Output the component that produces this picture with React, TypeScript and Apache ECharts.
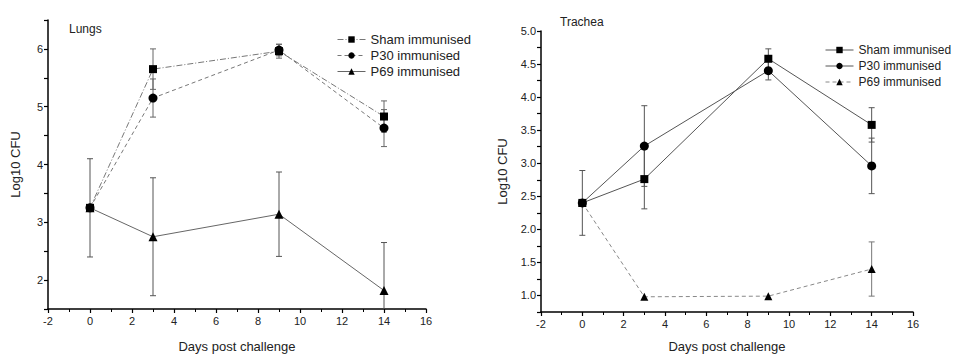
import React, { useEffect, useRef } from "react";
import * as echarts from "echarts";

const days = [0, 3, 9, 14];
const seriesNames = ["Sham immunised", "P30 immunised", "P69 immunised"];

const lungsSham = [3.25, 5.65, 5.96, 4.83];
const lungsShamErr = [0, 0.35, 0.12, 0.27];
const lungsP30 = [3.25, 5.15, 5.98, 4.63];
const lungsP30Err = [0, 0.33, 0.1, 0.32];
const lungsP69 = [3.25, 2.75, 3.14, 1.82];
const lungsP69Err = [0.85, 1.02, 0.73, 0.83];

const tracheaSham = [2.4, 2.76, 4.58, 3.58];
const tracheaShamErr = [0.49, 0.45, 0.15, 0.26];
const tracheaP30 = [2.4, 3.26, 4.4, 2.96];
const tracheaP30Err = [0, 0.61, 0.14, 0.42];
const tracheaP69 = [2.4, 0.98, 0.99, 1.4];
const tracheaP69Err = [0, 0, 0, 0.41];

const FONT = "Liberation Sans, Arial, sans-serif";

const pts = (vals: number[]) => days.map((d, i) => [d, vals[i]]);
const errPts = (vals: number[], errs: number[]) =>
  days
    .map((d, i) => [d, vals[i] - errs[i], vals[i] + errs[i]])
    .filter((_, i) => errs[i] > 0);

const errorSeries = (data: number[][], idx: number, color: string) => ({
  type: "custom",
  xAxisIndex: idx,
  yAxisIndex: idx,
  clip: true,
  silent: true,
  z: 1,
  data,
  renderItem: (params: any, api: any) => {
    const x = api.value(0);
    const lo = api.coord([x, api.value(1)]);
    const hi = api.coord([x, api.value(2)]);
    const cw = 3;
    const style = { stroke: color, lineWidth: 1 };
    return {
      type: "group",
      children: [
        { type: "line", shape: { x1: lo[0], y1: lo[1], x2: hi[0], y2: hi[1] }, style },
        { type: "line", shape: { x1: hi[0] - cw, y1: hi[1], x2: hi[0] + cw, y2: hi[1] }, style },
        { type: "line", shape: { x1: lo[0] - cw, y1: lo[1], x2: lo[0] + cw, y2: lo[1] }, style },
      ],
    };
  },
});

const lineSeries = (
  name: string,
  vals: number[],
  idx: number,
  symbol: string,
  size: number,
  color: string,
  type: any
) => ({
  type: "line",
  name,
  xAxisIndex: idx,
  yAxisIndex: idx,
  data: pts(vals),
  symbol,
  symbolSize: size,
  showAllSymbol: true,
  itemStyle: { color: "#000" },
  lineStyle: { color, width: 1, type },
  z: 3,
});

const xAxisBase = (idx: number, nameGap: number) => ({
  type: "value",
  gridIndex: idx,
  min: -2,
  max: 16,
  interval: 2,
  name: "Days post challenge",
  nameLocation: "middle",
  nameGap,
  nameTextStyle: { fontFamily: FONT, fontSize: 13, color: "#222" },
  axisLine: { show: true, onZero: false, lineStyle: { color: "#000", width: 1.5 } },
  axisTick: { show: true, length: 4, inside: false, lineStyle: { color: "#000", width: 1.2 } },
  minorTick: { show: true, splitNumber: 2, length: 3, lineStyle: { color: "#000" } },
  axisLabel: { fontFamily: FONT, fontSize: 11, color: "#222", margin: 6 },
  splitLine: { show: false },
  minorSplitLine: { show: false },
});

const yAxisBase = (
  idx: number,
  min: number,
  max: number,
  interval: number,
  fmt: (v: number) => string,
  nameGap: number
) => ({
  type: "value",
  gridIndex: idx,
  min,
  max,
  interval,
  name: "Log10 CFU",
  nameLocation: "middle",
  nameRotate: 90,
  nameGap,
  nameTextStyle: { fontFamily: FONT, fontSize: 13, color: "#222" },
  axisLine: { show: true, onZero: false, lineStyle: { color: "#000", width: 1.5 } },
  axisTick: { show: true, length: 4, lineStyle: { color: "#000", width: 1.2 } },
  axisLabel: { fontFamily: FONT, fontSize: 11, color: "#222", margin: 5, formatter: fmt, showMinLabel: true, showMaxLabel: true },
  splitLine: { show: false },
});

const legendBase = (left: number, top: number, fontSize: number, gap: number, styles: any[]) => ({
  orient: "vertical",
  left,
  top,
  itemWidth: 28,
  itemHeight: 8,
  itemGap: gap,
  textStyle: { fontFamily: FONT, fontSize, color: "#222" },
  data: seriesNames.map((n, i) => ({ name: n, lineStyle: styles[i], itemStyle: { color: "#000" } })),
  selectedMode: false,
});

export default function App() {
  const ref = useRef<HTMLDivElement>(null);
  useEffect(() => {
    document.body.style.margin = "0";
    const chart = echarts.init(ref.current!, null, { renderer: "svg" });
    const lColors = ["#777", "#777", "#666"];
    const lTypes: any[] = [[6, 2, 1, 2], [4, 3], "solid"];
    const rColors = ["#555", "#555", "#888"];
    const rTypes: any[] = ["solid", "solid", [4, 3]];
    chart.setOption({
      animation: false,
      backgroundColor: "#fff",
      title: [
        { text: "Lungs", left: 64, top: 18, textStyle: { fontFamily: FONT, fontSize: 12, fontWeight: "normal", color: "#222" } },
        { text: "Trachea", left: 555, top: 11, textStyle: { fontFamily: FONT, fontSize: 12, fontWeight: "normal", color: "#222" } },
      ],
      legend: [
        legendBase(332, 28, 13, 3, lColors.map((c, i) => ({ color: c, width: 1, type: lTypes[i] }))),
        legendBase(820, 39, 12, 4, rColors.map((c, i) => ({ color: c, width: 1, type: rTypes[i] }))),
      ],
      grid: [
        { left: 48, top: 20, width: 378, height: 296 },
        { left: 541, top: 31, width: 372, height: 282 },
      ],
      xAxis: [xAxisBase(0, 31), xAxisBase(1, 28)],
      yAxis: [
        yAxisBase(0, 1.5, 6.5, 0.5, (v: number) => (Math.abs(v - Math.round(v)) < 1e-6 ? String(Math.round(v)) : ""), 26),
        yAxisBase(1, 0.75, 5.0, 0.25, (v: number) => (Math.abs(v * 2 - Math.round(v * 2)) < 1e-6 ? v.toFixed(1) : ""), 32),
      ],
      series: [
        lineSeries(seriesNames[0], lungsSham, 0, "rect", 8, lColors[0], lTypes[0]),
        lineSeries(seriesNames[1], lungsP30, 0, "circle", 9, lColors[1], lTypes[1]),
        lineSeries(seriesNames[2], lungsP69, 0, "triangle", 9, lColors[2], lTypes[2]),
        errorSeries(errPts(lungsSham, lungsShamErr), 0, "#666"),
        errorSeries(errPts(lungsP30, lungsP30Err), 0, "#666"),
        errorSeries(errPts(lungsP69, lungsP69Err), 0, "#555"),
        lineSeries(seriesNames[0], tracheaSham, 1, "rect", 8, rColors[0], rTypes[0]),
        lineSeries(seriesNames[1], tracheaP30, 1, "circle", 9, rColors[1], rTypes[1]),
        lineSeries(seriesNames[2], tracheaP69, 1, "triangle", 8, rColors[2], rTypes[2]),
        errorSeries(errPts(tracheaSham, tracheaShamErr), 1, "#555"),
        errorSeries(errPts(tracheaP30, tracheaP30Err), 1, "#555"),
        errorSeries(errPts(tracheaP69, tracheaP69Err), 1, "#777"),
      ],
    });
    return () => chart.dispose();
  }, []);
  return <div ref={ref} style={{ width: 953, height: 358 }} />;
}
